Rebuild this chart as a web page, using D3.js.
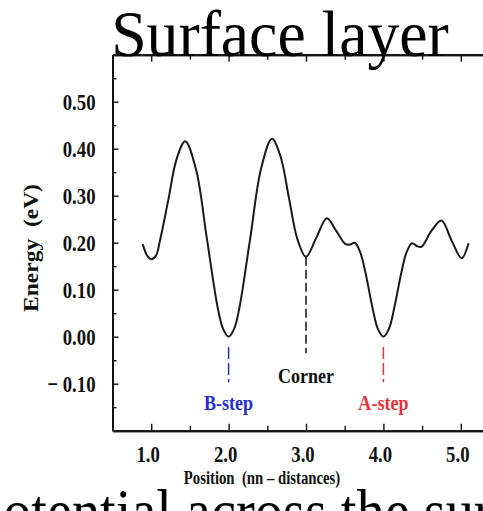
<!DOCTYPE html>
<html>
<head>
<meta charset="utf-8">
<script src="https://cdn.jsdelivr.net/npm/d3@7"></script>
<style>
	body { margin: 0; background: #fff; }
	svg { display: block; }
	text { font-family: 'Liberation Serif', 'Times New Roman', 'DejaVu Serif', serif; }
</style>
</head>
<body>
<svg width="483" height="511"></svg>
<script>
// Energy profile along the surface
const positions = [0.89, 0.95, 1.0, 1.06, 1.11, 1.22, 1.33, 1.44, 1.58, 1.72, 1.86, 1.93, 2.0, 2.07, 2.14, 2.28, 2.42, 2.56,
	2.67, 2.78, 2.89, 3.0, 3.135, 3.27, 3.39, 3.51, 3.57, 3.63, 3.7, 3.77, 3.86, 3.93, 4.0, 4.07, 4.14, 4.23, 4.3, 4.37,
	4.43, 4.49, 4.62, 4.75, 4.88, 5.01, 5.1];
const energies = [0.197, 0.172, 0.165, 0.172, 0.202, 0.29, 0.379, 0.416, 0.355, 0.208, 0.061, 0.016, 0.0, 0.016, 0.062, 0.21, 0.358, 0.421,
	0.384, 0.295, 0.207, 0.17, 0.211, 0.252, 0.225, 0.197, 0.196, 0.2, 0.18, 0.135, 0.061, 0.016, 0.0, 0.016, 0.061, 0.135, 0.18, 0.199,
	0.193, 0.191, 0.225, 0.247, 0.205, 0.167, 0.199];

// marked sites
const siteNames = ['B-step', 'Corner', 'A-step'];
const sitePositions = [2.0, 3.0, 4.0];
const siteColors = ['#1f2fd0', '#111111', '#e8303a'];
const siteLineTop = [-0.022, 0.17, -0.022];
const siteLineBottom = [-0.097, -0.035, -0.097];
const siteLabelY = [-0.156, -0.099, -0.156];

const xMajor = [1, 2, 3, 4, 5];
const xMinor = [1.5, 2.5, 3.5, 4.5];
const yMajor = [-0.1, 0, 0.1, 0.2, 0.3, 0.4, 0.5];
const yMinor = [-0.15, -0.05, 0.05, 0.15, 0.25, 0.35, 0.45, 0.55];

const svg = d3.select('svg');

const x = d3.scaleLinear().domain([0.5, 5.5]).range([112.5, 499.5]);
const y = d3.scaleLinear().domain([-0.2, 0.6]).range([430.7, 54.7]);

const sx = 0.78; // chart text looks squeezed sideways
const serif = "'Liberation Serif', 'Times New Roman', 'DejaVu Serif', serif";

const styleAxis = (sel) => {
	sel.select('.domain').attr('stroke', '#111').attr('stroke-width', 2);
	sel.selectAll('.tick line').attr('stroke', '#111').attr('stroke-width', 1.4);
};

// bottom axis: ticks point up into the plot
const bottom = svg.append('g')
	.attr('transform', `translate(0,${y(-0.2)})`)
	.call(d3.axisBottom(x).tickValues(xMajor).tickSizeInner(-7).tickSizeOuter(0).tickPadding(14)
		.tickFormat(d3.format('.1f')));
styleAxis(bottom);
bottom.selectAll('.tick text')
	.attr('fill', '#111')
	.attr('font-family', serif)
	.attr('font-size', 24)
	.attr('font-weight', 'bold')
	.attr('x', -3.5 / sx)
	.attr('transform', `scale(${sx},1)`);

svg.append('g')
	.attr('transform', `translate(0,${y(-0.2)})`)
	.call(d3.axisBottom(x).tickValues(xMinor).tickSizeInner(-5).tickSizeOuter(0).tickFormat(''))
	.call(styleAxis);

// top frame line with ticks pointing down
svg.append('g')
	.attr('transform', `translate(0,${y(0.6)})`)
	.call(d3.axisBottom(x).tickValues(xMajor).tickSizeInner(7).tickSizeOuter(0).tickFormat(''))
	.call(styleAxis);
svg.append('g')
	.attr('transform', `translate(0,${y(0.6)})`)
	.call(d3.axisBottom(x).tickValues(xMinor).tickSizeInner(5).tickSizeOuter(0).tickFormat(''))
	.call(styleAxis);

// left axis
const yFormat = (d) => (d < -1e-9 ? '\u2212 ' + Math.abs(d).toFixed(2) : Math.abs(d).toFixed(2));
const left = svg.append('g')
	.attr('transform', `translate(${x(0.5)},0)`)
	.call(d3.axisLeft(y).tickValues(yMajor).tickSizeInner(-6).tickSizeOuter(0).tickFormat(yFormat));
styleAxis(left);
left.selectAll('.tick text')
	.attr('fill', '#111')
	.attr('font-family', serif)
	.attr('font-size', 24)
	.attr('font-weight', 'bold')
	.attr('x', -17 / sx)
	.attr('transform', `scale(${sx},1)`);

svg.append('g')
	.attr('transform', `translate(${x(0.5)},0)`)
	.call(d3.axisLeft(y).tickValues(yMinor).tickSizeInner(-4).tickSizeOuter(0).tickFormat(''))
	.call(styleAxis);

// axis titles
svg.append('text')
	.attr('transform', `translate(38,248) rotate(-90) scale(1,0.85)`)
	.attr('text-anchor', 'middle')
	.attr('font-family', serif)
	.attr('font-size', 23.5)
	.attr('font-weight', 'bold')
	.attr('fill', '#111')
	.text('Energy\u00a0\u00a0(eV)');

svg.append('text')
	.attr('transform', `translate(262,484) scale(0.82,1)`)
	.attr('text-anchor', 'middle')
	.attr('font-family', serif)
	.attr('font-size', 18)
	.attr('font-weight', 'bold')
	.attr('fill', '#111')
	.text('Position\u00a0\u00a0(nn \u2013 distances)');

// site markers
siteNames.forEach((name, i) => {
	svg.append('line')
		.attr('x1', x(sitePositions[i]))
		.attr('x2', x(sitePositions[i]))
		.attr('y1', y(siteLineTop[i]))
		.attr('y2', y(siteLineBottom[i]))
		.attr('stroke', siteColors[i])
		.attr('stroke-width', 1.5)
		.attr('stroke-dasharray', i === 1 ? '9,4' : '12,4');

	svg.append('text')
		.attr('transform', `translate(${x(sitePositions[i])},${y(siteLabelY[i])}) scale(0.82,1)`)
		.attr('text-anchor', 'middle')
		.attr('font-family', serif)
		.attr('font-size', 22)
		.attr('font-weight', 'bold')
		.attr('fill', siteColors[i])
		.text(name);
});

// energy curve
const line = d3.line()
	.x((d, i) => x(positions[i]))
	.y((d) => y(d))
	.curve(d3.curveCatmullRom.alpha(0.5));

svg.append('path')
	.datum(energies)
	.attr('d', line)
	.attr('fill', 'none')
	.attr('stroke', '#1a1a1a')
	.attr('stroke-width', 2);

// slide text around the chart
svg.append('text')
	.attr('transform', 'translate(280,56) scale(0.965,1)')
	.attr('text-anchor', 'middle')
	.attr('font-family', serif)
	.attr('font-weight', 'normal')
	.attr('font-size', 66)
	.attr('fill', '#000')
	.text('Surface layer');

svg.append('text')
	.attr('transform', 'translate(-25,533) scale(0.88,1)')
	.attr('font-family', serif)
	.attr('font-weight', 'normal')
	.attr('font-size', 64)
	.attr('fill', '#000')
	.text('potential across the surface');
</script>
</body>
</html>
